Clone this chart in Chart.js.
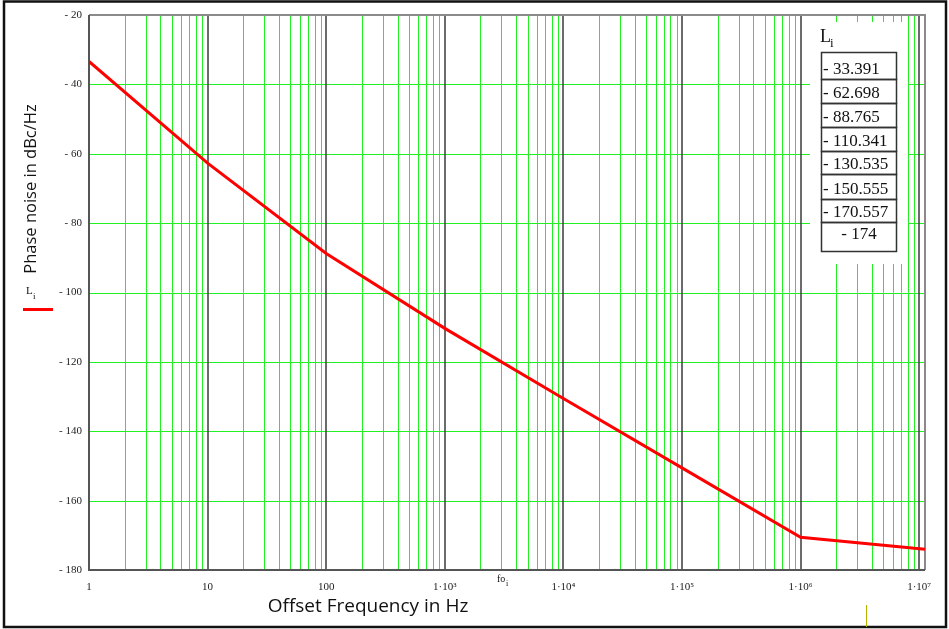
<!DOCTYPE html>
<html>
<head>
<meta charset="utf-8">
<script src="https://cdn.jsdelivr.net/npm/chart.js@4/dist/chart.umd.min.js"></script>
<style>
html,body{margin:0;padding:0;background:#fff;}
canvas{display:block;}
</style>
</head>
<body>
<canvas id="c" width="949" height="629"></canvas>
<script>
// ---- data ----
const offsetFreqs = [1, 10, 100, 1000, 10000, 100000, 1000000, 11200000];
const phaseNoise = [-33.391, -62.698, -88.765, -110.341, -130.535, -150.555, -170.557, -174];
const tableValues = ['- 33.391', '- 62.698', '- 88.765', '- 110.341', '- 130.535', '- 150.555', '- 170.557', '- 174'];
const xDecades = [1, 10, 100, 1000, 10000, 100000, 1000000, 10000000];
const xTickLabels = ['1', '10', '100', '1\u00B710\u00B3', '1\u00B710\u2074', '1\u00B710\u2075', '1\u00B710\u2076', '1\u00B710\u2077'];
const yTicks = [-180, -160, -140, -120, -100, -80, -60, -40, -20];

const px = v => Math.round(v) + 0.5;

const decor = {
  id: 'decor',
  beforeDatasetsDraw(chart) {
    const ctx = chart.ctx, a = chart.chartArea;
    const xs = chart.scales.x, ys = chart.scales.y;
    ctx.save();
    // minor vertical grid (green)
    ctx.strokeStyle = '#22f022';
    ctx.lineWidth = 1;
    ctx.beginPath();
    xDecades.forEach(d => {
      for (let k = 2; k <= 9; k++) {
        const v = d * k;
        if (v >= xs.max) continue;
        const x = px(xs.getPixelForValue(v));
        ctx.moveTo(x, a.top); ctx.lineTo(x, a.bottom);
      }
    });
    // horizontal grid (green)
    yTicks.forEach(v => {
      if (v === ys.min || v === ys.max) return;
      const y = px(ys.getPixelForValue(v));
      ctx.moveTo(a.left, y); ctx.lineTo(a.right, y);
    });
    ctx.stroke();
    // decade lines (dark)
    ctx.strokeStyle = '#474747';
    ctx.lineWidth = 1.6;
    ctx.beginPath();
    xDecades.forEach(d => {
      if (d <= xs.min) return;
      const x = Math.round(xs.getPixelForValue(d));
      ctx.moveTo(x, a.top); ctx.lineTo(x, a.bottom);
    });
    ctx.stroke();
    // table white box hiding grid
    ctx.fillStyle = '#fff';
    ctx.fillRect(810, 22, 98, 242);
    // plot border
    ctx.strokeStyle = '#8a8a8a';
    ctx.lineWidth = 2;
    ctx.beginPath();
    ctx.moveTo(a.left, a.top); ctx.lineTo(a.right, a.top);
    ctx.lineTo(a.right, a.bottom);
    ctx.stroke();
    ctx.strokeStyle = '#555';
    ctx.beginPath();
    ctx.moveTo(a.left, a.top); ctx.lineTo(a.left, a.bottom); ctx.lineTo(a.right, a.bottom);
    ctx.stroke();
    ctx.restore();
  },
  afterDraw(chart) {
    const ctx = chart.ctx;
    ctx.save();
    // outer frame
    ctx.strokeStyle = '#111';
    ctx.lineWidth = 2.5;
    ctx.strokeRect(4, 1.5, 942, 625.5);
    // yellow mark
    ctx.strokeStyle = '#b5b500';
    ctx.lineWidth = 1;
    ctx.beginPath(); ctx.moveTo(866.5, 605); ctx.lineTo(866.5, 627); ctx.stroke();

    // axis titles
    ctx.fillStyle = '#111';
    ctx.textAlign = 'center';
    ctx.textBaseline = 'middle';
    ctx.font = '19px "Open Sans"';
    ctx.fillText('Offset Frequency in Hz', 368, 607);
    ctx.save();
    ctx.translate(31, 189);
    ctx.rotate(-Math.PI / 2);
    ctx.font = '16.5px "Open Sans"';
    ctx.fillText('Phase noise in dBc/Hz', 0, 0);
    ctx.restore();

    // legend L_i with red line
    ctx.textAlign = 'left';
    ctx.textBaseline = 'alphabetic';
    ctx.font = '11px "Liberation Serif"';
    ctx.fillText('L', 26, 294);
    ctx.font = '9px "Liberation Serif"';
    ctx.fillText('i', 33, 299);
    ctx.strokeStyle = '#ff0000';
    ctx.lineWidth = 3;
    ctx.beginPath(); ctx.moveTo(23, 309.5); ctx.lineTo(53, 309.5); ctx.stroke();

    // fo_i label
    ctx.font = '10px "Liberation Serif"';
    ctx.fillText('fo', 497, 582);
    ctx.font = '8px "Liberation Serif"';
    ctx.fillText('i', 506, 586);

    // table
    ctx.font = '18px "Liberation Serif"';
    ctx.fillText('L', 820, 42);
    ctx.font = '13px "Liberation Serif"';
    ctx.fillText('i', 830, 47);
    const rows = [52, 79, 103, 127, 151, 174, 199, 222, 251];
    ctx.strokeStyle = '#333';
    ctx.lineWidth = 1.5;
    ctx.font = '17px "Liberation Serif"';
    for (let i = 0; i < tableValues.length; i++) {
      ctx.strokeRect(821.5, rows[i] + 0.5, 75, rows[i + 1] - rows[i]);
      if (i === tableValues.length - 1) {
        ctx.textAlign = 'center';
        ctx.fillText(tableValues[i], 859, rows[i] + 16.5);
      } else {
        ctx.textAlign = 'left';
        ctx.fillText(tableValues[i], 823, rows[i + 1] - 5.5);
      }
    }
    ctx.restore();
  }
};

new Chart(document.getElementById('c'), {
  type: 'line',
  data: {
    datasets: [{
      data: offsetFreqs.map((f, i) => ({ x: f, y: phaseNoise[i] })),
      borderColor: '#ff0000',
      borderWidth: 3,
      pointRadius: 0,
      tension: 0,
      fill: false
    }]
  },
  options: {
    responsive: false,
    animation: false,
    devicePixelRatio: 1,
    layout: { padding: { top: 15, right: 24, left: 0, bottom: 0 } },
    plugins: { legend: { display: false }, tooltip: { enabled: false } },
    scales: {
      x: {
        type: 'logarithmic',
        min: 1,
        max: 11200000,
        afterBuildTicks(scale) { scale.ticks = xDecades.map(v => ({ value: v })); },
        afterFit(scale) { scale.height = 59; },
        border: { display: false },
        grid: { display: false, drawTicks: false },
        ticks: {
          autoSkip: false,
          maxRotation: 0,
          padding: 11,
          color: '#222',
          font: { family: '"Liberation Serif"', size: 11 },
          callback(value) {
            const i = xDecades.findIndex(d => Math.abs(d - value) < 1e-6 * d);
            return i >= 0 ? xTickLabels[i] : '';
          }
        }
      },
      y: {
        min: -180,
        max: -20,
        afterBuildTicks(scale) { scale.ticks = yTicks.map(v => ({ value: v })); },
        afterFit(scale) { scale.width = 89; },
        border: { display: false },
        grid: { display: false, drawTicks: false },
        ticks: {
          padding: 7,
          color: '#222',
          font: { family: '"Liberation Serif"', size: 11 },
          callback: v => '- ' + Math.abs(v)
        }
      }
    }
  },
  plugins: [decor]
});
</script>
</body>
</html>
